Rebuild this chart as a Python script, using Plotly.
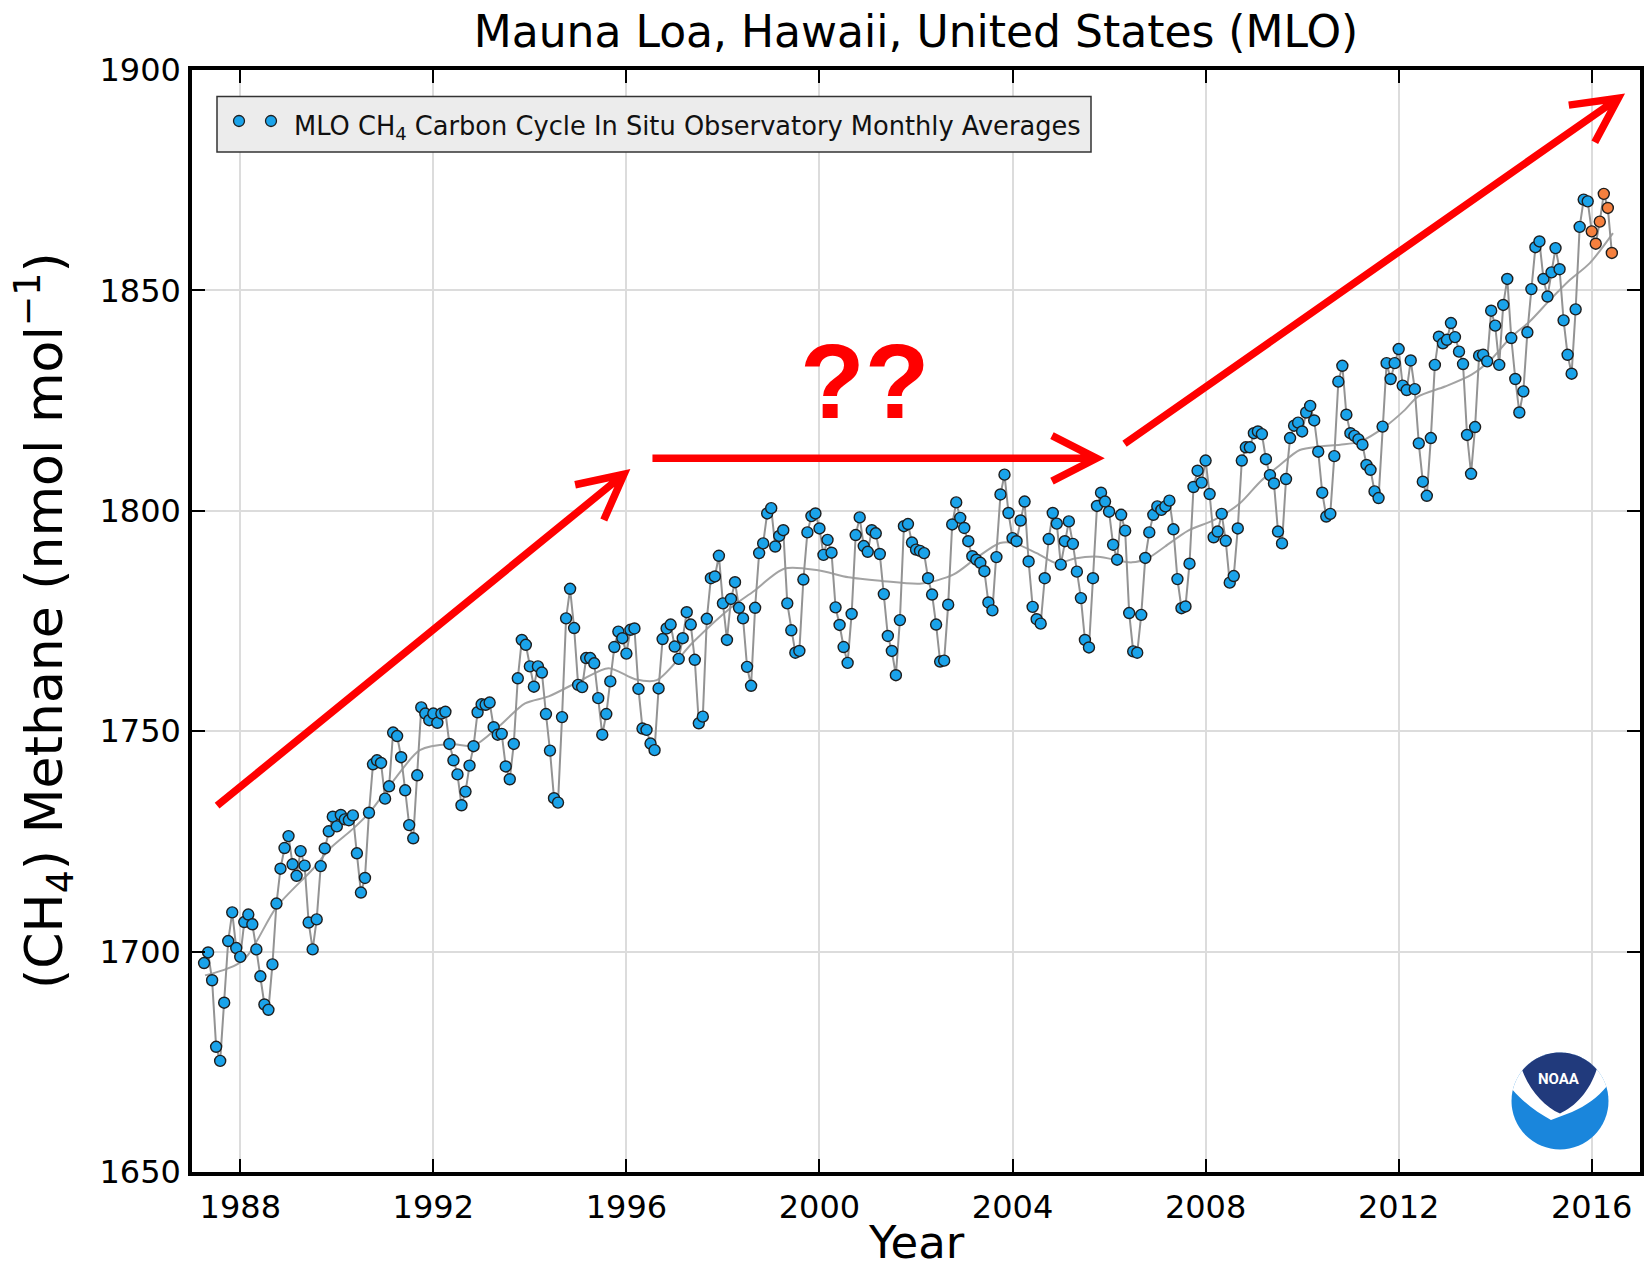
import numpy as np
import plotly.graph_objects as go

# ---------------------------------------------------------------------------
# Data: Mauna Loa in-situ CH4 monthly averages (nmol/mol), starting April 1987
# ---------------------------------------------------------------------------
start_year, start_month = 1987, 4

ch4_monthly = [
    1697.4, 1699.8, 1693.5, 1678.4, 1675.2, 1688.4, 1702.4, 1708.9, 1700.8, 1698.8, 1706.7, 1708.4,
    1706.2, 1700.5, 1694.4, 1688.0, 1686.8, 1697.1, 1710.9, 1718.8, 1723.5, 1726.2, 1719.8, 1717.2,
    1722.8, 1719.5, 1706.6, 1700.5, 1707.3, 1719.4, 1723.4, 1727.3, 1730.6, 1728.4, 1731.0, 1730.0,
    1729.8, 1730.9, 1722.3, 1713.4, 1716.7, 1731.5, 1742.5, 1743.4, 1742.8, 1734.7, 1737.5, 1749.7,
    1748.9, 1744.1, 1736.6, 1728.7, 1725.7, 1740.0, 1755.4, 1754.0, 1752.5, 1754.0, 1751.9, 1754.0,
    1754.4, 1747.1, 1743.4, 1740.2, 1733.2, 1736.3, 1742.2, 1746.6, 1754.3, 1756.1, 1756.0, 1756.5,
    1750.9, 1749.2, 1749.4, 1742.0, 1739.1, 1747.1, 1762.0, 1770.7, 1769.6, 1764.7, 1760.1, 1764.7,
    1763.3, 1753.9, 1745.6, 1734.8, 1733.8, 1753.2, 1775.6, 1782.3, 1773.4, 1760.5, 1760.0, 1766.6,
    1766.6, 1765.4, 1757.5, 1749.2, 1753.9, 1761.3, 1769.1, 1772.6, 1771.1, 1767.6, 1773.0, 1773.3,
    1759.6, 1750.6, 1750.3, 1747.2, 1745.7, 1759.7, 1770.9, 1773.3, 1774.2, 1769.2, 1766.4, 1771.1,
    1777.0, 1774.2, 1766.2, 1751.8, 1753.3, 1775.5, 1784.7, 1785.1, 1789.8, 1779.0, 1770.7, 1780.0,
    1783.8, 1778.0, 1775.6, 1764.6, 1760.3, 1778.0, 1790.4, 1792.6, 1799.4, 1800.6, 1791.9, 1794.3,
    1795.6, 1779.0, 1772.9, 1767.8, 1768.2, 1784.4, 1795.1, 1798.8, 1799.4, 1796.0, 1790.0, 1793.4,
    1790.5, 1778.1, 1774.1, 1769.1, 1765.5, 1776.6, 1794.5, 1798.5, 1792.0, 1790.7, 1795.6, 1794.9,
    1790.2, 1781.1, 1771.6, 1768.2, 1762.7, 1775.2, 1796.5, 1797.0, 1792.8, 1791.2, 1790.9, 1790.4,
    1784.7, 1781.0, 1774.2, 1765.8, 1766.0, 1778.7, 1796.9, 1801.9, 1798.4, 1796.1, 1793.1, 1789.7,
    1788.9, 1788.2, 1786.3, 1779.2, 1777.4, 1789.5, 1803.7, 1808.2, 1799.5, 1793.8, 1793.1, 1797.8,
    1802.1, 1788.5, 1778.2, 1775.4, 1774.4, 1784.7, 1793.6, 1799.5, 1797.1, 1787.8, 1793.1, 1797.6,
    1792.5, 1786.2, 1780.2, 1770.7, 1769.0, 1784.7, 1801.1, 1804.1, 1802.1, 1799.8, 1792.3, 1788.9,
    1799.1, 1795.5, 1776.8, 1768.1, 1767.8, 1776.4, 1789.3, 1795.1, 1799.1, 1801.0, 1800.2, 1801.0,
    1802.3, 1795.8, 1784.5, 1777.9, 1778.3, 1788.0, 1805.4, 1809.1, 1806.4, 1811.4, 1803.8, 1794.0,
    1795.3, 1799.3, 1793.2, 1783.7, 1785.2, 1796.0, 1811.4, 1814.4, 1814.4, 1817.6, 1818.0, 1817.4,
    1811.7, 1808.1, 1806.2, 1795.3, 1792.6, 1807.2, 1816.5, 1819.3, 1820.0, 1818.0, 1822.3, 1823.8,
    1820.5, 1813.4, 1804.1, 1798.7, 1799.3, 1812.4, 1829.3, 1832.9, 1821.8, 1817.6, 1817.0, 1816.2,
    1815.0, 1810.4, 1809.3, 1804.4, 1802.9, 1819.1, 1833.5, 1829.9, 1833.5, 1836.7, 1828.4, 1827.4,
    1834.1, 1827.6, 1815.3, 1806.6, 1803.4, 1816.5, 1833.1, 1839.5, 1838.0, 1838.8, 1842.6, 1839.4,
    1836.1, 1833.3, 1817.2, 1808.4, 1819.0, 1835.2, 1835.4, 1833.9, 1845.4, 1842.0, 1833.1, 1846.7,
    1852.6, 1839.2, 1829.9, 1822.3, 1827.1, 1840.5, 1850.3, 1859.8, 1861.1, 1852.6, 1848.6, 1854.1,
    1859.6, 1854.8, 1843.2, 1835.4, 1831.1, 1845.7, 1864.4, 1870.6, 1870.2,
]

# Most recent (preliminary) months, shown in orange
ch4_preliminary = [1863.4, 1860.6, 1865.6, 1871.9, 1868.7, 1858.5]

# Smoothed long-term trend (decimal year, nmol/mol)
trend_year = [
    1987.27, 1988.06, 1988.75, 1989.51, 1989.86, 1990.34, 1990.69, 1991.24, 1991.72, 1992.34,
    1992.83, 1993.35, 1993.90, 1994.39, 1995.07, 1995.63, 1996.18, 1996.63, 1997.39, 1998.15,
    1998.63, 1999.28, 1999.97, 2000.60, 2001.29, 2002.12, 2002.77, 2003.25, 2003.74, 2004.02,
    2004.50, 2004.92, 2005.29, 2005.77, 2006.47, 2006.81, 2007.16, 2007.64, 2008.19, 2008.71,
    2009.13, 2009.54, 2009.95, 2010.37, 2010.79, 2011.20, 2011.72, 2012.13, 2012.40, 2012.96,
    2013.51, 2013.92, 2014.31, 2014.72, 2015.14, 2015.55, 2015.96, 2016.44,
]
trend_ch4 = [
    1694.6, 1698.0, 1710.1, 1718.8, 1723.4, 1727.9, 1731.7, 1739.7, 1745.7, 1747.1,
    1746.7, 1751.0, 1756.3, 1757.9, 1761.6, 1764.3, 1761.8, 1761.6, 1770.3, 1777.9,
    1781.7, 1786.9, 1786.5, 1784.9, 1784.1, 1783.5, 1785.5, 1789.3, 1792.7, 1792.7,
    1790.4, 1788.1, 1789.2, 1789.6, 1788.3, 1789.3, 1791.9, 1795.5, 1798.0, 1801.7,
    1806.6, 1810.4, 1813.8, 1814.6, 1815.0, 1815.7, 1819.1, 1822.9, 1825.9, 1828.2,
    1830.9, 1834.4, 1839.2, 1843.0, 1847.9, 1852.4, 1856.2, 1863.0,
]

x_tick_values = [1988, 1992, 1996, 2000, 2004, 2008, 2012, 2016]
y_tick_values = [1650, 1700, 1750, 1800, 1850, 1900]

# ---------------------------------------------------------------------------
# Geometry
# ---------------------------------------------------------------------------
W, H = 1645, 1269
ML, MR, MT, MB = 192, 5, 70, 97
PLOT_W, PLOT_H = W - ML - MR, H - MT - MB
X_RANGE = [1987, 2017]
Y_RANGE = [1650, 1900]

BLUE = "#1aa3ea"
ORANGE = "#f5803e"
EDGE = "#1e1e1e"
RED = "#ff0000"


def to_px(x, y):
    px = ML + (x - X_RANGE[0]) / (X_RANGE[1] - X_RANGE[0]) * PLOT_W
    py = MT + (Y_RANGE[1] - y) / (Y_RANGE[1] - Y_RANGE[0]) * PLOT_H
    return px, py


def to_data(px, py):
    x = X_RANGE[0] + (px - ML) / PLOT_W * (X_RANGE[1] - X_RANGE[0])
    y = Y_RANGE[1] - (py - MT) / PLOT_H * (Y_RANGE[1] - Y_RANGE[0])
    return x, y


def px_to_paper(px, py):
    return (px - ML) / PLOT_W, 1 - (py - MT) / PLOT_H


# Monthly time axis in decimal years
all_values = ch4_monthly + ch4_preliminary
month_index = np.arange(len(all_values))
decimal_year = start_year + (start_month - 1 + month_index) / 12.0
n_main = len(ch4_monthly)

fig = go.Figure()

# Smoothed trend
fig.add_trace(go.Scatter(
    x=trend_year, y=trend_ch4, mode="lines",
    line=dict(color="#a3a3a3", width=2, shape="spline", smoothing=0.8),
    hoverinfo="skip",
))

# Connecting line through all monthly values
fig.add_trace(go.Scatter(
    x=decimal_year, y=all_values, mode="lines",
    line=dict(color="#939393", width=2),
    hoverinfo="skip",
))

# Monthly averages
fig.add_trace(go.Scatter(
    x=decimal_year[:n_main], y=ch4_monthly, mode="markers",
    marker=dict(size=11, color=BLUE, line=dict(color=EDGE, width=1.4)),
    name="MLO CH4 monthly",
))
fig.add_trace(go.Scatter(
    x=decimal_year[n_main:], y=ch4_preliminary, mode="markers",
    marker=dict(size=11, color=ORANGE, line=dict(color=EDGE, width=1.4)),
    name="preliminary",
))

shapes = []
annotations = []

# ---------------------------------------------------------------------------
# Legend box (drawn by hand to show two sample markers)
# ---------------------------------------------------------------------------
bx0, by1 = px_to_paper(217, 96.5)
bx1, by0 = px_to_paper(1091, 152)
shapes.append(dict(type="rect", xref="paper", yref="paper", x0=bx0, x1=bx1, y0=by0, y1=by1,
                   fillcolor="#ececec", line=dict(color="#333333", width=1.5), layer="above"))
for mx in (239, 271):
    cx, cy = px_to_paper(mx, 121)
    shapes.append(dict(type="circle", xref="paper", yref="paper", xsizemode="pixel", ysizemode="pixel",
                       xanchor=cx, yanchor=cy, x0=-5.5, x1=5.5, y0=-5.5, y1=5.5,
                       fillcolor=BLUE, line=dict(color=EDGE, width=1.3), layer="above"))
tx, ty = px_to_paper(292, 128)
annotations.append(dict(
    xref="paper", yref="paper", x=tx, y=ty, xanchor="left", yanchor="middle", showarrow=False,
    text="MLO CH<sub>4</sub> Carbon Cycle In Situ Observatory Monthly Averages",
    font=dict(family="DejaVu Sans", size=25.7, color="#111111"),
))

# ---------------------------------------------------------------------------
# Red annotation arrows (open chevron heads)
# ---------------------------------------------------------------------------
arrows = [
    ((1987.52, 1733.1), (1995.95, 1808.3)),
    ((1996.54, 1811.9), (2005.74, 1811.9)),
    ((2006.32, 1815.2), (2016.55, 1893.6)),
]


def arrow_path(tail, tip, arm=50.0, spread=np.radians(27)):
    tpx, tpy = to_px(*tail)
    hpx, hpy = to_px(*tip)
    back = np.arctan2(tpy - hpy, tpx - hpx)
    heads = []
    for s in (spread, -spread):
        heads.append(to_data(hpx + arm * np.cos(back + s), hpy + arm * np.sin(back + s)))
    (a1x, a1y), (a2x, a2y) = heads
    return (f"M {tail[0]},{tail[1]} L {tip[0]},{tip[1]} "
            f"M {a1x},{a1y} L {tip[0]},{tip[1]} L {a2x},{a2y}")


for tail, tip in arrows:
    shapes.append(dict(type="path", xref="x", yref="y", path=arrow_path(tail, tip),
                       line=dict(color=RED, width=7.5), layer="above"))

annotations.append(dict(
    xref="x", yref="y", x=2000.95, y=1829.5, showarrow=False, text="<b>??</b>",
    font=dict(family="Liberation Sans", size=106, color=RED),
    xanchor="center", yanchor="middle",
))

# ---------------------------------------------------------------------------
# NOAA emblem (lower right corner)
# ---------------------------------------------------------------------------
LOGO_R = 48.5
lx, ly = px_to_paper(1560, 1101)


def arc_points(a0, a1, n=48):
    ang = np.radians(np.linspace(a0, a1, n))
    return [(LOGO_R * np.cos(a), LOGO_R * np.sin(a)) for a in ang]


def path_from(points, tail):
    head = "M " + " L ".join(f"{x:.2f},{y:.2f}" for x, y in points)
    return head + " " + tail


white_path = path_from(arc_points(17, 167),
                       "C -36,-2 -22,-12 -9,-19 L 12,-11 C 26,-5 38,4 46.4,14.2 Z")
navy_path = path_from(arc_points(40.8, 141),
                      "C -30,10 -15,-6 0,-12.5 C 15,-6 30,10 36.7,31.7 Z")

shapes.append(dict(type="circle", xref="paper", yref="paper", xsizemode="pixel", ysizemode="pixel",
                   xanchor=lx, yanchor=ly, x0=-LOGO_R, x1=LOGO_R, y0=-LOGO_R, y1=LOGO_R,
                   fillcolor="#1a86dc", line=dict(width=0), layer="above"))
shapes.append(dict(type="path", xref="paper", yref="paper", xsizemode="pixel", ysizemode="pixel",
                   xanchor=lx, yanchor=ly, path=white_path,
                   fillcolor="#ffffff", line=dict(width=0), layer="above"))
shapes.append(dict(type="path", xref="paper", yref="paper", xsizemode="pixel", ysizemode="pixel",
                   xanchor=lx, yanchor=ly, path=navy_path,
                   fillcolor="#213a7c", line=dict(width=0), layer="above"))
nx, ny = px_to_paper(1559, 1079)
annotations.append(dict(
    xref="paper", yref="paper", x=nx, y=ny, showarrow=False, text="<b>NOAA</b>",
    font=dict(family="Roboto", size=15, color="#ffffff"), xanchor="center", yanchor="middle",
))

# ---------------------------------------------------------------------------
# Axis titles
# ---------------------------------------------------------------------------
yx, yy = px_to_paper(44, 621)
annotations.append(dict(
    xref="paper", yref="paper", x=yx, y=yy, showarrow=False, textangle=-90,
    text="(CH<sub>4</sub>) Methane (nmol mol<sup>\u22121</sup>)",
    font=dict(family="DejaVu Sans", size=52, color="#000000"),
    xanchor="center", yanchor="middle",
))
xx, xy = px_to_paper(916, 1242)
annotations.append(dict(
    xref="paper", yref="paper", x=xx, y=xy, showarrow=False, text="Year",
    font=dict(family="DejaVu Sans", size=45, color="#000000"),
    xanchor="center", yanchor="middle",
))

axis_common = dict(
    showline=True, linecolor="#000000", linewidth=3.5, mirror="ticks",
    ticks="inside", ticklen=13, tickwidth=1.5, tickcolor="#000000",
    showgrid=True, gridcolor="#dcdcdc", gridwidth=1.5, zeroline=False,
    automargin=False,
    tickfont=dict(family="DejaVu Sans", size=32, color="#000000"),
)

fig.update_layout(
    width=W, height=H,
    margin=dict(l=ML, r=MR, t=MT, b=MB, pad=0, autoexpand=False),
    paper_bgcolor="#ffffff", plot_bgcolor="#ffffff",
    showlegend=False,
    title=dict(text="Mauna Loa, Hawaii, United States (MLO)",
               font=dict(family="DejaVu Sans", size=44, color="#000000"),
               x=(ML + PLOT_W / 2) / W, xanchor="center",
               y=1 - 32 / H, yanchor="middle"),
    xaxis=dict(range=X_RANGE, tickvals=x_tick_values, ticklabelstandoff=4, **axis_common),
    yaxis=dict(range=Y_RANGE, tickvals=y_tick_values, ticklabelstandoff=1, **axis_common),
    shapes=shapes,
    annotations=annotations,
)

fig.write_html("out.html")
